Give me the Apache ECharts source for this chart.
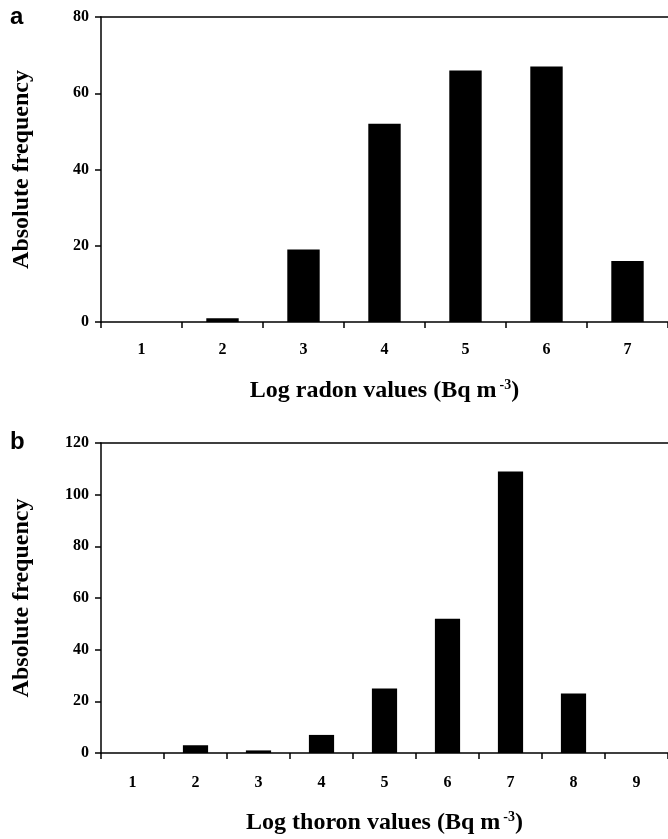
<!DOCTYPE html>
<html>
<head>
<meta charset="utf-8">
<script src="https://cdn.jsdelivr.net/npm/echarts@6/dist/echarts.min.js"></script>
<style>
  html, body { margin: 0; padding: 0; background: #fff; }
  #chart { width: 668px; height: 839px; }
</style>
</head>
<body>
<div id="chart"></div>
<script>
// panel a: radon
const radonCats = ["1", "2", "3", "4", "5", "6", "7"];
const radonFreq = [0, 1, 19, 52, 66, 67, 16];
// panel b: thoron
const thoronCats = ["1", "2", "3", "4", "5", "6", "7", "8", "9"];
const thoronFreq = [0, 3, 1, 7, 25, 52, 109, 23, 0];

const serif = "'Liberation Serif', 'DejaVu Serif', serif";
const black = "#000";

function xAxisFor(cats, gridIndex, name, labelMargin, nameGap) {
  return {
    type: "category",
    gridIndex: gridIndex,
    data: cats,
    position: "bottom",
    boundaryGap: true,
    axisLine: { lineStyle: { color: black, width: 1.5 } },
    axisTick: { show: true, length: 6, inside: false, lineStyle: { color: black, width: 1.5 } },
    axisLabel: { color: black, fontFamily: serif, fontWeight: "bold", fontSize: 16, margin: labelMargin },
    name: name,
    nameLocation: "middle",
    nameGap: nameGap,
    nameTextStyle: {
      color: black, fontFamily: serif, fontWeight: "bold", fontSize: 24,
      rich: { sup: { fontFamily: serif, fontWeight: "bold", fontSize: 14, verticalAlign: "top", padding: [0, 0, 12, 3] } }
    }
  };
}

function topLine(gridIndex) {
  return {
    type: "category",
    gridIndex: gridIndex,
    position: "top",
    data: [],
    axisLine: { lineStyle: { color: black, width: 1.5 } },
    axisTick: { show: false },
    axisLabel: { show: false }
  };
}

function yAxisFor(gridIndex, max, interval) {
  return {
    type: "value",
    gridIndex: gridIndex,
    min: 0,
    max: max,
    interval: interval,
    name: "Absolute frequency",
    nameLocation: "middle",
    nameGap: 67,
    nameTextStyle: { color: black, fontFamily: serif, fontWeight: "bold", fontSize: 24 },
    axisLine: { show: true, lineStyle: { color: black, width: 1.5 } },
    axisTick: { show: true, length: 6, lineStyle: { color: black, width: 1.5 } },
    axisLabel: { color: black, fontFamily: serif, fontWeight: "bold", fontSize: 16, margin: 12 },
    splitLine: { show: false }
  };
}

const chart = echarts.init(document.getElementById("chart"), null, { renderer: "canvas" });
chart.setOption({
  backgroundColor: "#fff",
  animation: false,
  grid: [
    { left: 101, top: 17, width: 567, height: 305 },
    { left: 101, top: 443, width: 567, height: 310 }
  ],
  xAxis: [
    xAxisFor(radonCats, 0, "Log radon values (Bq m{sup|-3})", 20, 56),
    xAxisFor(thoronCats, 1, "Log thoron values (Bq m{sup|-3})", 22, 57),
    topLine(0),
    topLine(1)
  ],
  yAxis: [yAxisFor(0, 80, 20), yAxisFor(1, 120, 20)],
  graphic: [
    { type: "text", left: 10, top: 5, style: { text: "a", font: "bold 24px 'Liberation Sans', Arial, sans-serif", fill: black } },
    { type: "text", left: 10, top: 430, style: { text: "b", font: "bold 24px 'Liberation Sans', Arial, sans-serif", fill: black } }
  ],
  series: [
    {
      type: "bar", xAxisIndex: 0, yAxisIndex: 0, data: radonFreq,
      barWidth: "40%", itemStyle: { color: black }
    },
    {
      type: "bar", xAxisIndex: 1, yAxisIndex: 1, data: thoronFreq,
      barWidth: "40%", itemStyle: { color: black }
    }
  ]
});
</script>
</body>
</html>
